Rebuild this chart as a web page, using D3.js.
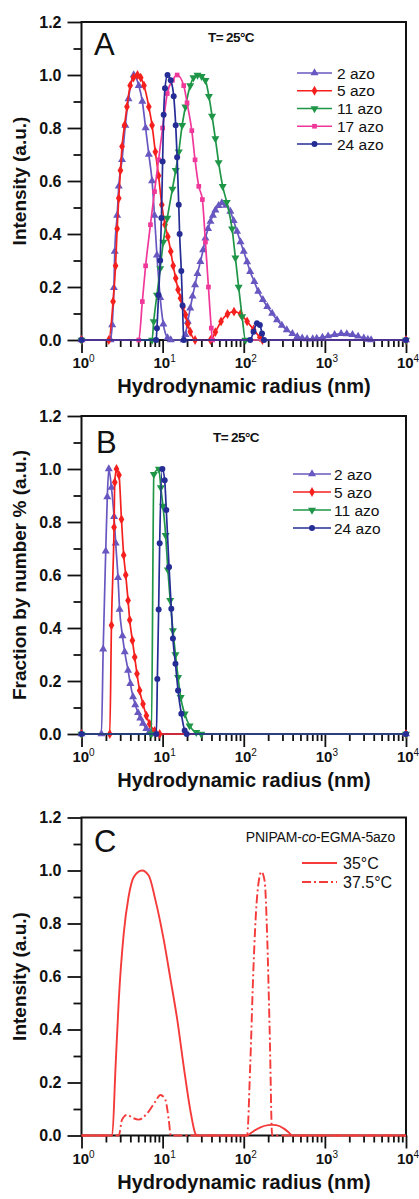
<!DOCTYPE html>
<html>
<head>
<meta charset="utf-8">
<script src="https://cdn.jsdelivr.net/npm/d3@7"></script>
<style>
  body { margin: 0; background: #fff; }
  svg { display: block; font-family: Arial, "Liberation Sans", Helvetica, sans-serif; }
</style>
</head>
<body>
<div class="canvas"></div>
<script>
// ---------- DATA (radius in nm, normalised intensity / fraction) ----------
// Panel A : intensity distributions, T = 25 C
const rA2  = [1, 2.28, 2.39, 2.51, 2.57, 2.75, 2.88, 3.16, 3.47, 3.80, 4.41, 5.08, 5.62, 6.17, 6.76, 7.41, 7.94, 8.51, 9.33, 10.2, 11.5, 12.6,
              18.2, 19.1, 20.4, 21.9, 23.4, 25.1, 26.9, 29.2, 31.6, 33.7, 36.3, 38.9, 41.7, 44.7, 49.0, 53.7, 60.3, 68.4, 75.0, 82.6, 91.2,
              100, 110, 120, 135, 151, 172, 195, 224, 257, 295, 339, 398, 457, 525, 603, 708, 794, 933, 1096, 1318, 1585, 1862, 2188,
              2570, 3020, 3388, 3715, 10000];
const iA2  = [0, 0, 0.057, 0.197, 0.334, 0.47, 0.58, 0.68, 0.81, 0.91, 1.0, 0.96, 0.90, 0.80, 0.70, 0.60, 0.47, 0.32, 0.16, 0.06, 0.008, 0,
              0, 0.02, 0.07, 0.12, 0.165, 0.208, 0.25, 0.296, 0.34, 0.384, 0.42, 0.447, 0.47, 0.49, 0.507, 0.517, 0.508, 0.485, 0.45, 0.41, 0.37,
              0.334, 0.295, 0.258, 0.22, 0.183, 0.152, 0.126, 0.10, 0.076, 0.055, 0.038, 0.024, 0.013, 0.007, 0.004, 0.004, 0.006, 0.01, 0.015, 0.02, 0.024, 0.023, 0.02,
              0.014, 0.007, 0.002, 0, 0];
const rA5  = [1, 2.17, 2.45, 2.63, 2.75, 2.88, 3.02, 3.16, 3.39, 3.63, 3.98, 4.37, 4.9, 5.37, 5.89, 6.76, 7.41, 8.13, 8.91, 9.77, 10.7, 11.6, 12.6, 13.5, 14.5, 15.5, 16.6, 17.8, 19.1, 20.4, 21.9, 25.1, 38.9, 44.7, 52.5, 63.1, 75.9, 91.2, 110, 132, 158, 170, 10000];
const iA5  = [0, 0, 0.145, 0.28, 0.42, 0.535, 0.64, 0.73, 0.81, 0.88, 0.96, 0.99, 1.0, 0.99, 0.96, 0.88, 0.81, 0.71, 0.62, 0.51, 0.435, 0.39, 0.334, 0.28, 0.233, 0.19, 0.158, 0.125, 0.095, 0.06, 0.031, 0, 0, 0.03, 0.07, 0.098, 0.107, 0.098, 0.07, 0.04, 0.01, 0, 0];
const rA11 = [1, 7.41, 7.76, 8.51, 9.33, 10.2, 11.4, 13.2, 14.5, 15.8, 17.4, 19.1, 21.9, 24.0, 26.9, 30.2, 33.7, 37.2, 40.7, 44.7, 49.0, 55.0, 61.7, 71.8, 78.9, 86.5, 95.5, 105, 10000];
const iA11 = [0, 0, 0.07, 0.17, 0.27, 0.37, 0.46, 0.57, 0.64, 0.71, 0.81, 0.88, 0.96, 0.99, 1.0, 0.995, 0.98, 0.92, 0.845, 0.76, 0.67, 0.58, 0.52, 0.42, 0.31, 0.20, 0.088, 0, 0];
const rA17 = [1, 5.08, 5.62, 6.17, 7.08, 7.94, 8.91, 10.0, 11.4, 13.2, 15.1, 18.2, 20.0, 22.9, 25.1, 27.9, 30.9, 33.7, 36.7, 39.8, 41.2, 10000];
const iA17 = [0, 0, 0.145, 0.28, 0.435, 0.56, 0.68, 0.80, 0.93, 0.98, 1.0, 0.96, 0.895, 0.79, 0.68, 0.58, 0.53, 0.37, 0.20, 0.045, 0, 0];
const rA24 = [1, 8.32, 8.51, 8.91, 9.33, 9.66, 10.0, 10.3, 10.7, 11.5, 12.6, 13.7, 14.5, 15.1, 15.8, 16.2, 17.0, 17.6, 18.2, 120, 132, 145, 158, 168, 178, 10000];
const iA24 = [0, 0, 0.044, 0.17, 0.30, 0.46, 0.674, 0.85, 0.95, 1.0, 0.98, 0.92, 0.81, 0.69, 0.51, 0.40, 0.26, 0.13, 0, 0, 0.031, 0.063, 0.057, 0.025, 0, 0];

// Panel B : number distributions, T = 25 C
const rB2  = [1, 1.76, 1.85, 1.99, 2.08, 2.17, 2.34, 2.52, 2.64, 2.82, 2.95, 3.20, 3.41, 3.75, 4.0, 4.32, 4.6, 4.98, 5.3, 5.73, 6.3, 6.92, 7.59, 10000];
const iB2  = [0, 0, 0.32, 0.69, 0.895, 1.0, 0.93, 0.82, 0.72, 0.59, 0.47, 0.37, 0.31, 0.24, 0.19, 0.14, 0.11, 0.08, 0.06, 0.04, 0.02, 0.01, 0, 0];
const rB5  = [1, 2.23, 2.34, 2.52, 2.57, 2.70, 2.90, 3.11, 3.31, 3.51, 3.75, 3.93, 4.24, 4.53, 4.83, 5.21, 5.73, 6.31, 6.92, 7.98, 9.20, 10000];
const iB5  = [0, 0, 0.41, 0.78, 0.95, 1.0, 0.977, 0.81, 0.675, 0.60, 0.504, 0.43, 0.353, 0.29, 0.227, 0.164, 0.113, 0.069, 0.038, 0.012, 0, 0];
const rB11 = [1, 7.27, 7.8, 9.0, 9.5, 10.1, 10.9, 11.6, 12.4, 13.4, 14.4, 15.5, 16.7, 18.7, 21.5, 26.0, 30.0, 10000];
const iB11 = [0, 0, 0.98, 1.0, 0.93, 0.86, 0.75, 0.62, 0.504, 0.39, 0.30, 0.214, 0.138, 0.076, 0.031, 0.006, 0, 0];
const rB24 = [1, 8.38, 8.61, 8.93, 9.20, 9.93, 10.6, 11.1, 12.0, 12.8, 13.4, 14.4, 15.5, 17.0, 18.7, 19.8, 10000];
const iB24 = [0, 0, 0.208, 0.47, 0.72, 1.0, 0.958, 0.845, 0.63, 0.473, 0.36, 0.265, 0.164, 0.076, 0.013, 0, 0];

// Panel C : PNIPAM-co-EGMA-5azo at two temperatures
const rC35 = [1, 2.39, 2.63, 2.88, 3.31, 3.80, 4.42, 5.58, 6.76, 8.13, 10.3, 12.5, 15.1, 18.2, 21.9, 25.1, 26.3, 110, 126, 158, 200, 224, 251, 316, 363, 394, 10000];
const iC35 = [0, 0, 0.26, 0.51, 0.76, 0.90, 0.976, 1.0, 0.98, 0.89, 0.74, 0.59, 0.44, 0.26, 0.097, 0.01, 0, 0, 0.012, 0.03, 0.039, 0.04, 0.039, 0.025, 0.01, 0, 0];
const rC37 = [1, 2.88, 3.16, 3.66, 4.3, 5.08, 6.46, 8.13, 9.40, 10.8, 11.9, 12.6, 110, 120, 132, 145, 165, 181, 194, 209, 224, 10000];
const iC37 = [0, 0, 0.06, 0.078, 0.066, 0.06, 0.084, 0.128, 0.153, 0.135, 0.06, 0, 0, 0.26, 0.64, 0.89, 0.995, 0.96, 0.76, 0.386, 0, 0];

// axis tick values
const decades = [1, 10, 100, 1000, 10000];
const decadeExp = ['0', '1', '2', '3', '4'];
const yMajor = [0, 0.2, 0.4, 0.6, 0.8, 1.0, 1.2];
const yMinor = [0.1, 0.3, 0.5, 0.7, 0.9, 1.1];

// ---------- SETUP ----------
const svg = d3.select('.canvas')
  .append('svg')
    .attr('width', 419)
    .attr('height', 1199);

const plot = {left: 81.5, right: 406, top: 22, height: 318};

const x = d3.scaleLog()
  .domain([1, 10000])
  .range([plot.left, plot.right]);

const y = d3.scaleLinear()
  .domain([0, 1.2])
  .range([plot.top + plot.height, plot.top]);

const line = d3.line()
  .x(d => x(d[0]))
  .y(d => y(d[1]))
  .curve(d3.curveMonotoneX);

// marker shapes
const shapes = {
  triUp:   {path: d3.symbol(d3.symbolTriangle, 28)(), rot: 0},
  triDown: {path: d3.symbol(d3.symbolTriangle, 28)(), rot: 180},
  diamond: {path: d3.symbol(d3.symbolDiamond, 28)(), rot: 0},
  square:  {path: d3.symbol(d3.symbolSquare, 22)(), rot: 0},
  circle:  {path: d3.symbol(d3.symbolCircle, 28)(), rot: 0}
};

const seriesA = [
  {name: '2 azo',  r: rA2,  v: iA2,  color: '#6857c0', shape: 'triUp'},
  {name: '5 azo',  r: rA5,  v: iA5,  color: '#f5201e', shape: 'diamond'},
  {name: '11 azo', r: rA11, v: iA11, color: '#1f9647', shape: 'triDown'},
  {name: '17 azo', r: rA17, v: iA17, color: '#f0389a', shape: 'square'},
  {name: '24 azo', r: rA24, v: iA24, color: '#252c95', shape: 'circle'}
];
const seriesB = [seriesA[0], seriesA[1], seriesA[2], seriesA[4]].map((s, i) => ({
  ...s, r: [rB2, rB5, rB11, rB24][i], v: [iB2, iB5, iB11, iB24][i]
}));

// ---------- FRAME, AXES, TITLES ----------
function drawFrame(g, yTitle) {
  // minor + major ticks, outward
  const minorX = x.ticks().filter(t => !decades.includes(t));
  g.append('g')
    .attr('transform', `translate(0, ${plot.top + plot.height})`)
    .call(d3.axisBottom(x).tickValues(minorX).tickSize(7).tickFormat(''));
  g.append('g')
    .attr('transform', `translate(0, ${plot.top + plot.height})`)
    .call(d3.axisBottom(x).tickValues(decades).tickSize(13).tickFormat(''));
  g.append('g')
    .attr('transform', `translate(${plot.left}, 0)`)
    .call(d3.axisLeft(y).tickValues(yMinor).tickSize(8).tickFormat(''));
  const yAx = g.append('g')
    .attr('transform', `translate(${plot.left}, 0)`)
    .call(d3.axisLeft(y).tickValues(yMajor).tickSize(14).tickPadding(6).tickFormat(d3.format('.1f')));
  yAx.selectAll('text')
    .attr('font-size', 16)
    .attr('font-weight', 'bold')
    .attr('font-family', 'Arial, "Liberation Sans", sans-serif')
    .attr('fill', '#111');
  g.selectAll('.domain').remove();
  g.selectAll('.tick line').attr('stroke', '#111').attr('stroke-width', 1.8);

  // box
  g.append('rect')
    .attr('x', plot.left).attr('y', plot.top)
    .attr('width', plot.right - plot.left).attr('height', plot.height)
    .attr('fill', 'none').attr('stroke', '#111').attr('stroke-width', 2);

  // x labels 10^n
  const lab = g.append('g').selectAll('text')
    .data(decades)
    .join('text')
      .attr('x', d => x(d) + 2)
      .attr('y', plot.top + plot.height + 28)
      .attr('text-anchor', 'middle')
      .attr('fill', '#111')
      .attr('font-weight', 'bold')
      .attr('font-size', 15);
  lab.append('tspan').text('10');
  lab.append('tspan')
    .attr('dy', -6)
    .attr('font-size', 10)
    .attr('font-weight', 'normal')
    .text((d, i) => decadeExp[i]);

  g.append('text')
    .attr('x', 244)
    .attr('y', plot.top + plot.height + 53)
    .attr('text-anchor', 'middle')
    .attr('font-weight', 'bold')
    .attr('font-size', 20)
    .attr('fill', '#111')
    .text('Hydrodynamic radius (nm)');

  g.append('text')
    .attr('transform', `translate(26, ${plot.top + plot.height / 2}) rotate(-90)`)
    .attr('text-anchor', 'middle')
    .attr('font-weight', 'bold')
    .attr('font-size', 19)
    .attr('fill', '#111')
    .text(yTitle);
}

function drawSeries(g, s) {
  const pts = d3.zip(s.r, s.v);
  g.append('path')
    .datum(pts)
    .attr('d', line)
    .attr('fill', 'none')
    .attr('stroke', s.color)
    .attr('stroke-width', 1.7);
  const shp = shapes[s.shape];
  g.append('g').selectAll('path')
    .data(pts)
    .join('path')
      .attr('d', shp.path)
      .attr('transform', d => `translate(${x(d[0])}, ${y(d[1])})` + (shp.rot ? ` rotate(${shp.rot})` : ''))
      .attr('fill', s.color);
}

function drawLegend(g, series, opt) {
  series.forEach((s, i) => {
    const cy = opt.y0 + i * opt.dy;
    g.append('line')
      .attr('x1', opt.x1).attr('x2', opt.x2)
      .attr('y1', cy).attr('y2', cy)
      .attr('stroke', s.color).attr('stroke-width', 1.7);
    const shp = shapes[s.shape];
    g.append('path')
      .attr('d', shp.path)
      .attr('transform', `translate(${(opt.x1 + opt.x2) / 2}, ${cy})` + (shp.rot ? ` rotate(${shp.rot})` : ''))
      .attr('fill', s.color);
    g.append('text')
      .attr('x', opt.tx).attr('y', cy + 5.5)
      .attr('font-size', 15.5)
      .attr('fill', '#111')
      .text(s.name);
  });
}

function panelLetter(g, letter, px, py) {
  g.append('text')
    .attr('x', px).attr('y', py)
    .attr('font-size', 31)
    .attr('fill', '#111')
    .text(letter);
}

function tempNote(g, px, py) {
  g.append('text')
    .attr('x', px).attr('y', py)
    .attr('font-size', 13.5)
    .attr('font-weight', 'bold')
    .attr('letter-spacing', -0.6)
    .attr('fill', '#111')
    .text('T= 25°C');
}

// ---------- PANEL A ----------
const gA = svg.append('g');
drawFrame(gA, 'Intensity (a.u.)');
seriesA.forEach(s => drawSeries(gA, s));
panelLetter(gA, 'A', 94, 55);
tempNote(gA, 208, 42);
drawLegend(gA, seriesA, {x1: 297, x2: 332, tx: 337, y0: 73, dy: 17.75});

// ---------- PANEL B ----------
const gB = svg.append('g').attr('transform', 'translate(0, 394)');
drawFrame(gB, 'Fraction by number % (a.u.)');
seriesB.forEach(s => drawSeries(gB, s));
panelLetter(gB, 'B', 96, 59);
tempNote(gB, 213, 47.5);
drawLegend(gB, seriesB, {x1: 293, x2: 331, tx: 334, y0: 80, dy: 18});

// ---------- PANEL C ----------
const gC = svg.append('g').attr('transform', 'translate(0, 795.5)');
drawFrame(gC, 'Intensity (a.u.)');
const red = '#f53a3a';
gC.append('path')
  .datum(d3.zip(rC37, iC37))
  .attr('d', line)
  .attr('fill', 'none')
  .attr('stroke', red)
  .attr('stroke-width', 1.9)
  .attr('stroke-dasharray', '9,3,2,3');
gC.append('path')
  .datum(d3.zip(rC35, iC35))
  .attr('d', line)
  .attr('fill', 'none')
  .attr('stroke', red)
  .attr('stroke-width', 1.9);
panelLetter(gC, 'C', 94, 56.5);
gC.append('text')
  .attr('x', 395).attr('y', 46.5)
  .attr('text-anchor', 'end')
  .attr('font-size', 14)
  .attr('letter-spacing', -0.2)
  .attr('fill', '#111')
  .call(t => {
    t.append('tspan').text('PNIPAM-');
    t.append('tspan').attr('font-style', 'italic').text('co');
    t.append('tspan').text('-EGMA-5azo');
  });
[{label: '35°C', dash: null}, {label: '37.5°C', dash: '9,3,2,3'}].forEach((d, i) => {
  const cy = 67.5 + i * 19;
  gC.append('line')
    .attr('x1', 302).attr('x2', 337)
    .attr('y1', cy).attr('y2', cy)
    .attr('stroke', red).attr('stroke-width', 1.9)
    .attr('stroke-dasharray', d.dash);
  gC.append('text')
    .attr('x', 343).attr('y', cy + 5.5)
    .attr('font-size', 16)
    .attr('fill', '#111')
    .text(d.label);
});
</script>
</body>
</html>
